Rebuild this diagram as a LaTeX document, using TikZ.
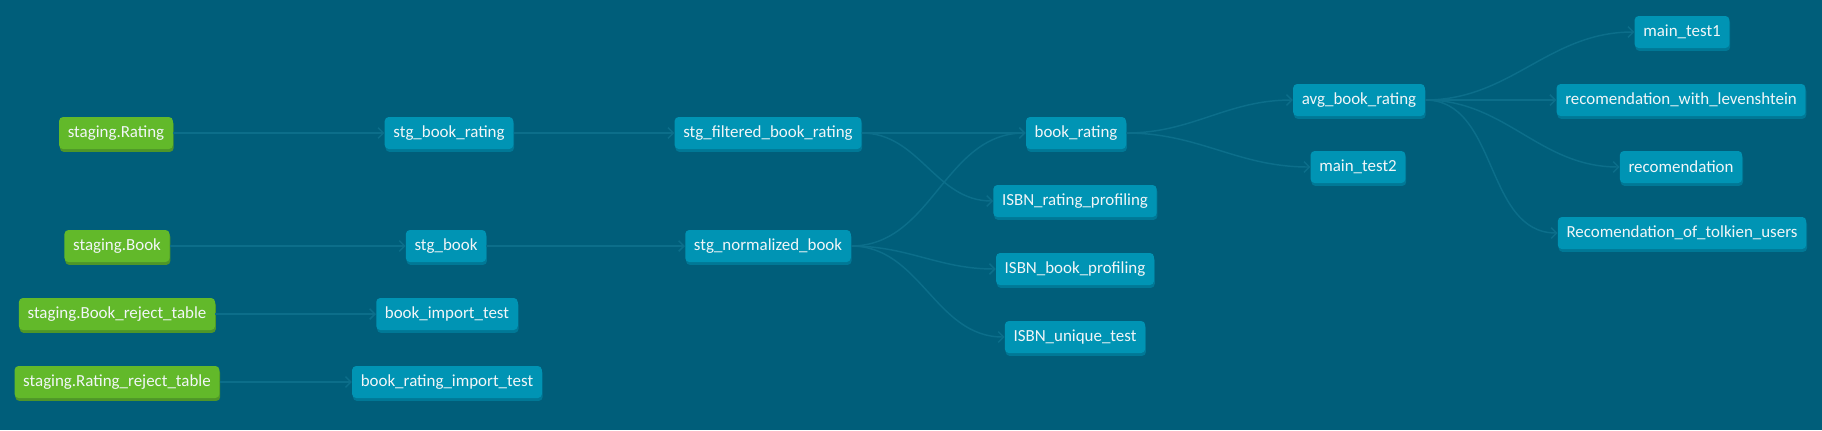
\documentclass[tikz,border=0pt]{standalone}
\usepackage{fontspec}
\setmainfont{Carlito}
\usetikzlibrary{arrows.meta,shadows}

\definecolor{dagbg}{RGB}{0,94,122}
\definecolor{srcgreen}{RGB}{98,185,42}
\definecolor{srcshade}{RGB}{78,150,40}
\definecolor{mdlblue}{RGB}{0,148,180}
\definecolor{mdlshade}{RGB}{0,120,150}
\definecolor{edgeblue}{RGB}{12,110,138}
\definecolor{labelwhite}{RGB}{242,246,248}

\begin{document}
\begin{tikzpicture}[x=0.75pt,y=-0.75pt,
  box/.style={rounded corners=3pt,minimum height=24pt,inner xsep=6.5pt,inner ysep=0pt,
    text=labelwhite,font=\fontsize{12.7}{14}\selectfont},
  src/.style={box,fill=srcgreen,
    drop shadow={shadow xshift=0.6pt,shadow yshift=-2.2pt,opacity=1,fill=srcshade}},
  mdl/.style={box,fill=mdlblue,
    drop shadow={shadow xshift=0.6pt,shadow yshift=-2.2pt,opacity=1,fill=mdlshade}},
  edge/.style={draw=edgeblue,line width=1.1pt,-{Straight Barb[length=4pt,width=8pt]}}]
\fill[dagbg] (0,0) rectangle (1822,430);
\useasboundingbox (0,0) rectangle (1822,430);

% sources
\node[src] (rating) at (116,133) {staging.Rating};
\node[src] (book) at (117,246) {staging.Book};
\node[src] (bookrej) at (117,314) {staging.Book\_reject\_table};
\node[src] (ratingrej) at (117,382) {staging.Rating\_reject\_table};

% staging models
\node[mdl] (stgrating) at (449,133) {stg\_book\_rating};
\node[mdl] (stgbook) at (446,246) {stg\_book};
\node[mdl] (bookimport) at (447,314) {book\_import\_test};
\node[mdl] (ratingimport) at (447,382) {book\_rating\_import\_test};

\node[mdl] (filtered) at (768,133) {stg\_filtered\_book\_rating};
\node[mdl] (normalized) at (768,246) {stg\_normalized\_book};

% marts and tests
\node[mdl] (bookrating) at (1076,133) {book\_rating};
\node[mdl] (isbnrating) at (1075,201) {ISBN\_rating\_profiling};
\node[mdl] (isbnbook) at (1075,269) {ISBN\_book\_profiling};
\node[mdl] (isbnunique) at (1075,337) {ISBN\_unique\_test};

\node[mdl] (avgrating) at (1359,100) {avg\_book\_rating};
\node[mdl] (maintwo) at (1358,167) {main\_test2};

\node[mdl] (mainone) at (1682,32) {main\_test1};
\node[mdl] (leven) at (1681,100) {recomendation\_with\_levenshtein};
\node[mdl] (recom) at (1681,167) {recomendation};
\node[mdl] (tolkien) at (1682,233) {Recomendation\_of\_tolkien\_users};

% edges
\draw[edge] (rating) -- (stgrating);
\draw[edge] (book) -- (stgbook);
\draw[edge] (bookrej) -- (bookimport);
\draw[edge] (ratingrej) -- (ratingimport);
\draw[edge] (stgrating) -- (filtered);
\draw[edge] (stgbook) -- (normalized);
\draw[edge] (filtered.east) -- (bookrating.west);
\draw[edge] (filtered.east) to[out=0,in=180] (isbnrating.west);
\draw[edge] (normalized.east) to[out=0,in=180] (bookrating.west);
\draw[edge] (normalized.east) to[out=0,in=180] (isbnbook.west);
\draw[edge] (normalized.east) to[out=0,in=180] (isbnunique.west);
\draw[edge] (bookrating.east) to[out=0,in=180] (avgrating.west);
\draw[edge] (bookrating.east) to[out=0,in=180] (maintwo.west);
\draw[edge] (avgrating.east) to[out=0,in=180] (mainone.west);
\draw[edge] (avgrating.east) -- (leven.west);
\draw[edge] (avgrating.east) to[out=0,in=180] (recom.west);
\draw[edge] (avgrating.east) to[out=0,in=180] (tolkien.west);
\end{tikzpicture}
\end{document}
